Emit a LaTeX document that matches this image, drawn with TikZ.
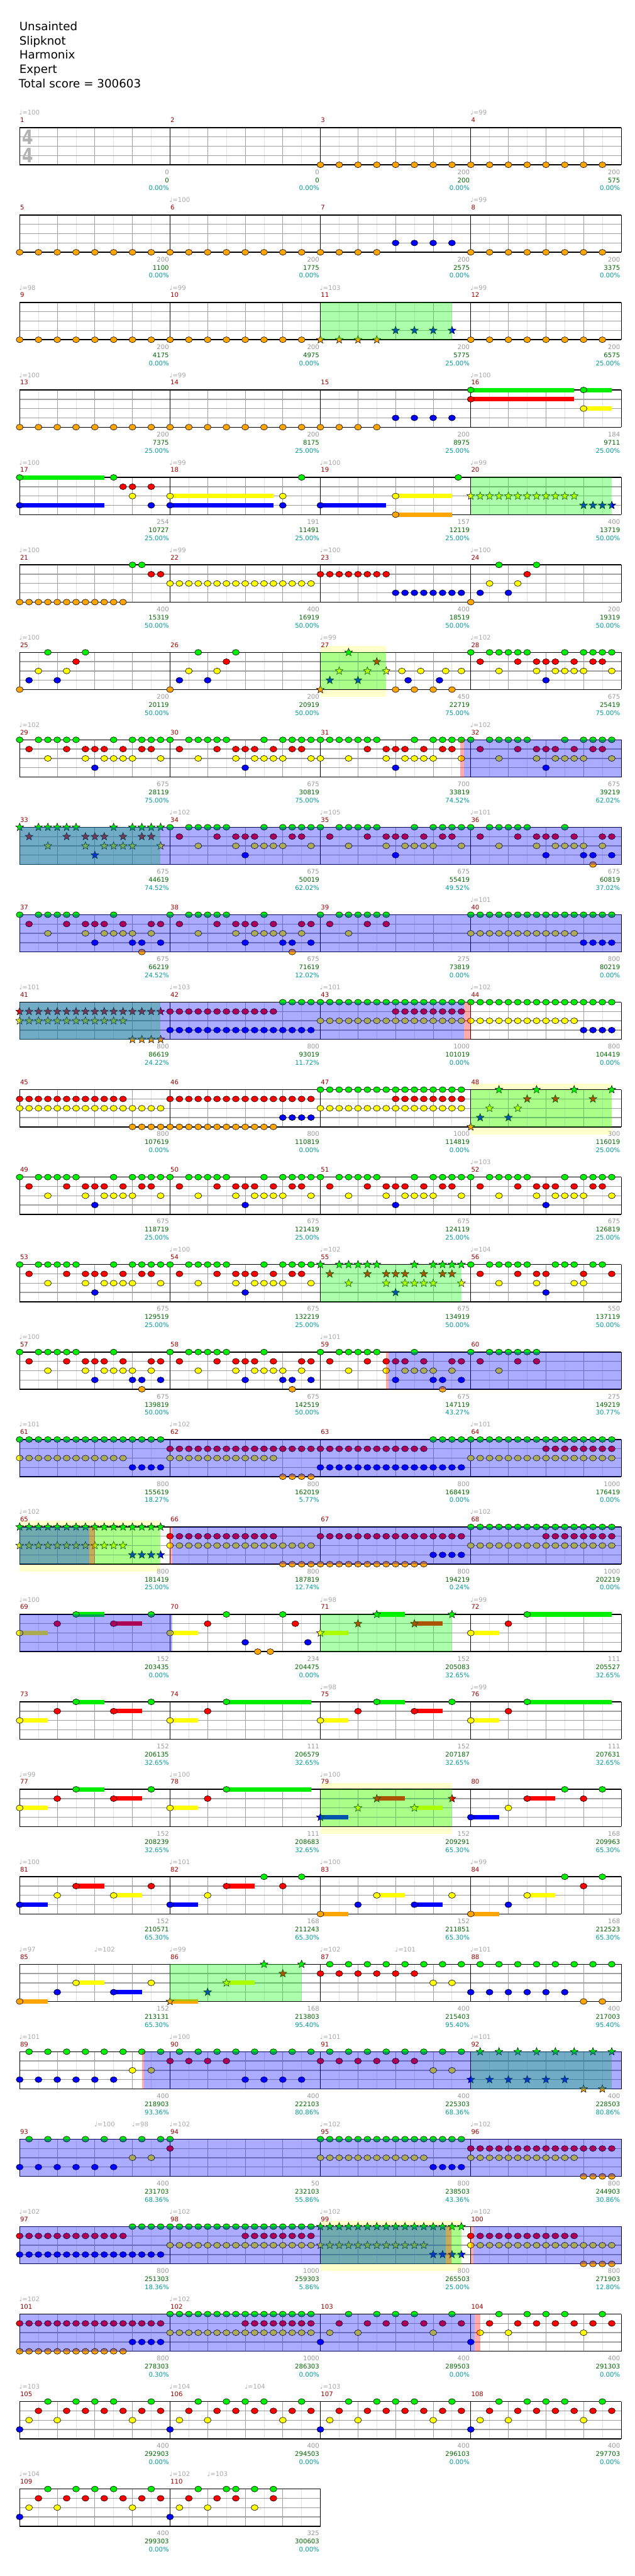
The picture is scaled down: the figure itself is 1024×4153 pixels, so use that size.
\documentclass[tikz,border=0pt]{standalone}
\usepackage{fontspec}
\setmainfont{DejaVu Sans}
\usetikzlibrary{shapes.geometric}
\definecolor{lnG}{HTML}{00EE00}
\definecolor{lnR}{HTML}{FF0000}
\definecolor{lnY}{HTML}{FFFF00}
\definecolor{lnB}{HTML}{0000FF}
\definecolor{lnO}{HTML}{FFA500}
\definecolor{GridLight}{HTML}{E2E2E2}
\definecolor{GridMid}{HTML}{A0A0A0}
\definecolor{SoloBg}{HTML}{FFFFCC}
\definecolor{SpGreen}{HTML}{00FF00}
\definecolor{OdBlue}{HTML}{0000FF}
\definecolor{MkRed}{HTML}{FF0000}
\definecolor{MeasRed}{HTML}{990000}
\definecolor{TempoGray}{HTML}{A8A8A8}
\definecolor{ScoreGray}{HTML}{999999}
\definecolor{CumGreen}{HTML}{006600}
\definecolor{PctCyan}{HTML}{009999}
\newcommand{\smallfont}{\fontsize{7.7}{9}\selectfont}
\def\laneG{0}\def\laneR{15}\def\laneY{30}\def\laneB{45}\def\laneO{60}
% origin of measure #1 -> \mx, \my (top line)
\newcommand{\meas}[1]{%
  \pgfmathtruncatemacro\mrow{(#1-1)/4}%
  \pgfmathtruncatemacro\mcol{#1-1-4*\mrow}%
  \pgfmathsetmacro\mx{31.7+242.5*\mcol}%
  \pgfmathsetmacro\my{205.7+141*\mrow}}
% notes: lane letter, list of 16th positions
\newcommand{\gem}[2]{\foreach \p in {#2}{\filldraw[fill=ln#1,gemline] ({\mx+15.15625*\p},{\my+\csname lane#1\endcsname}) ellipse (5.6 and 4.7);}}
\newcommand{\sgem}[2]{\foreach \p in {#2}{\node[starnote,fill=ln#1] (st#1\p) at ({\mx+15.15625*\p},{\my+\csname lane#1\endcsname}) {};}}
\newcommand{\holdbar}[3]{\fill[ln#1] ({\mx+15.15625*#2},{\my+\csname lane#1\endcsname-3.6}) rectangle ({\mx+15.15625*#3},{\my+\csname lane#1\endcsname+3.6});}
\newcommand{\hold}[3]{\holdbar{#1}{#2}{#3}\gem{#1}{#2}}
\newcommand{\shold}[3]{\holdbar{#1}{#2}{#3}\sgem{#1}{#2}}
\newcommand{\ovl}[4]{\meas{#2}\fill[#1] ({\mx+15.15625*#3},\my) rectangle ({\mx+15.15625*#4},{\my+60});}
% repeating riffs
\newcommand{\patA}{\gem G{0,2,3,4,5,6,10,12,13,14,15}\gem R{1,5,7,8,9,11,13,14}\gem Y{3,7,9,10,11,12,15}\gem B{8}}
\newcommand{\patAs}{\sgem G{0,2,3,4,5,6,10,12,13,14,15}\sgem R{1,5,7,8,9,11,13,14}\sgem Y{3,7,9,10,11,12,15}\sgem B{8}}
\newcommand{\patC}{\gem G{0,2,3,4,5,6,10}\gem R{1,5,7,8,9,11,14,15}\gem Y{3,7,9,10,11,12,14}\gem B{8,12,13,15}\gem O{13}}
\newcommand{\patD}{\gem B{0}\gem Y{1,4,12}\gem R{2,5,7,9,11,13,15}\gem G{3,6,8,10,14}}
\tikzset{
  gemline/.style={draw=black,line width=0.45pt},
  starnote/.style={star,star points=5,star point ratio=2.3,minimum size=10pt,inner sep=0pt,draw=black,line width=0.4pt},
  eighthline/.style={draw=GridLight,line width=0.6pt},
  beatline/.style={draw=GridMid,line width=0.7pt},
  laneline/.style={draw=GridMid,line width=1pt},
  barline/.style={draw=black,line width=0.7pt},
  edgeline/.style={draw=black,line width=1.1pt},
  sp/.style={fill=SpGreen,fill opacity=0.33},
  od/.style={fill=OdBlue,fill opacity=0.33},
  mk/.style={fill=MkRed,fill opacity=0.33},
  titletxt/.style={anchor=base west,inner sep=0pt,font=\fontsize{13.9}{16}\selectfont},
  timesig/.style={inner sep=0pt,text=black!30,font=\fontsize{24}{24}\selectfont\bfseries,xscale=0.8},
  mnum/.style={anchor=west,inner sep=0pt,text=MeasRed,font=\smallfont},
  tempo/.style={anchor=west,inner sep=0pt,text=TempoGray,font=\smallfont},
  lblscore/.style={anchor=east,inner sep=0pt,text=ScoreGray,font=\smallfont},
  lblcum/.style={anchor=east,inner sep=0pt,text=CumGreen,font=\smallfont},
  lblpct/.style={anchor=east,inner sep=0pt,text=PctCyan,font=\smallfont}
}
\begin{document}
\begin{tikzpicture}[x=0.75pt,y=-0.75pt]
\useasboundingbox (0,0) rectangle (1024,4153);
\fill[white] (0,0) rectangle (1024,4153);
% header
\node[titletxt] (song) at (31,49) {Unsainted};
\node[titletxt] (band) at (31,72) {Slipknot};
\node[titletxt] (chart) at (31,95) {Harmonix};
\node[titletxt] (diff) at (31,118) {Expert};
\node[titletxt] (total) at (30,141) {Total score = 300603};
% solo backgrounds
\foreach \m/\a/\b in {27/0/7,48/0/15,65/0/15,79/0/14,99/0/15}{\meas{\m}\fill[SoloBg] ({\mx+15.15625*\a},{\my-10}) rectangle ({\mx+15.15625*\b},{\my+72});}
% staff grid
\foreach \m in {1,...,110}{\meas{\m}
  \foreach \k in {1,3,5,7}{\draw[eighthline] ({\mx+30.3125*\k},\my) -- ++(0,60);}
  \foreach \k in {1,2,3}{\draw[beatline] ({\mx+60.625*\k},\my) -- ++(0,60);}
  \foreach \k in {1,2,3}{\draw[laneline] (\mx,{\my+15*\k}) -- ++(242.5,0);}
  \draw[barline] (\mx,\my) -- ++(0,60);
  \draw[edgeline] (\mx,\my) -- ++(242.5,0) (\mx,{\my+60}) -- ++(242.5,0);
  \node[mnum] (mn\m) at ({\mx+0.5},{\my-12}) {\m};
}
\foreach \r in {0,...,26}{\draw[barline] (1001.7,{205.7+141*\r}) -- ++(0,60);}
\draw[barline] (516.7,{205.7+141*27}) -- ++(0,60);
\node[timesig] (ts1) at (44.5,221.5) {4};
\node[timesig] (ts2) at (44.5,250.5) {4};
% tempo marks
\foreach \m/\q/\t in {1/0/100,4/0/99,6/0/100,8/0/99,9/0/98,10/0/99,11/0/103,12/0/99,13/0/100,14/0/99,16/0/100,17/0/100,18/0/99,19/0/100,20/0/99,21/0/100,22/0/99,23/0/100,24/0/100,25/0/100,27/0/99,28/0/102,29/0/102,32/0/102,34/0/102,35/0/105,36/0/101,40/0/101,41/0/101,42/0/103,43/0/101,44/0/102,52/0/103,54/0/100,55/0/102,56/0/104,57/0/100,59/0/101,61/0/101,62/0/102,64/0/101,65/0/102,68/0/102,69/0/100,71/0/98,72/0/99,75/0/98,76/0/99,77/0/99,78/0/100,79/0/100,81/0/100,82/0/101,83/0/100,84/0/99,85/0/97,85/8/102,86/0/99,87/0/102,87/8/101,88/0/101,89/0/101,90/0/100,91/0/101,92/0/101,93/8/100,93/12/98,94/0/102,95/0/102,96/0/102,97/0/102,98/0/102,99/0/102,100/0/102,101/0/102,102/0/102,105/0/103,106/0/104,106/8/104,107/0/103,109/0/104,110/0/102,110/4/103}{\meas{\m}
  \node[tempo] (tp\m-\q) at ({\mx-1+15.15625*\q},{\my-24}) {♩=\t};}
% measure scores
\foreach \m/\s/\c/\p in {1/0/0/0.00,2/0/0/0.00,3/200/200/0.00,4/200/575/0.00,
  5/200/1100/0.00,6/200/1775/0.00,7/200/2575/0.00,8/200/3375/0.00,
  9/200/4175/0.00,10/200/4975/0.00,11/200/5775/25.00,12/200/6575/25.00,
  13/200/7375/25.00,14/200/8175/25.00,15/200/8975/25.00,16/184/9711/25.00,
  17/254/10727/25.00,18/191/11491/25.00,19/157/12119/25.00,20/400/13719/50.00,
  21/400/15319/50.00,22/400/16919/50.00,23/400/18519/50.00,24/200/19319/50.00,
  25/200/20119/50.00,26/200/20919/50.00,27/450/22719/75.00,28/675/25419/75.00,
  29/675/28119/75.00,30/675/30819/75.00,31/700/33819/74.52,32/675/39219/62.02,
  33/675/44619/74.52,34/675/50019/62.02,35/675/55419/49.52,36/675/60819/37.02,
  37/675/66219/24.52,38/675/71619/12.02,39/275/73819/0.00,40/800/80219/0.00,
  41/800/86619/24.22,42/800/93019/11.72,43/1000/101019/0.00,44/800/104419/0.00,
  45/800/107619/0.00,46/800/110819/0.00,47/1000/114819/0.00,48/300/116019/25.00,
  49/675/118719/25.00,50/675/121419/25.00,51/675/124119/25.00,52/675/126819/25.00,
  53/675/129519/25.00,54/675/132219/25.00,55/675/134919/50.00,56/550/137119/50.00,
  57/675/139819/50.00,58/675/142519/50.00,59/675/147119/43.27,60/275/149219/30.77,
  61/800/155619/18.27,62/800/162019/5.77,63/800/168419/0.00,64/1000/176419/0.00,
  65/800/181419/25.00,66/800/187819/12.74,67/800/194219/0.24,68/1000/202219/0.00,
  69/152/203435/0.00,70/234/204475/0.00,71/152/205083/32.65,72/111/205527/32.65,
  73/152/206135/32.65,74/111/206579/32.65,75/152/207187/32.65,76/111/207631/32.65,
  77/152/208239/32.65,78/111/208683/32.65,79/152/209291/65.30,80/168/209963/65.30,
  81/152/210571/65.30,82/168/211243/65.30,83/152/211851/65.30,84/168/212523/65.30,
  85/152/213131/65.30,86/168/213803/95.40,87/400/215403/95.40,88/400/217003/95.40,
  89/400/218903/93.36,90/400/222103/80.86,91/400/225303/68.36,92/400/228503/80.86,
  93/400/231703/68.36,94/50/232103/55.86,95/800/238503/43.36,96/800/244903/30.86,
  97/800/251303/18.36,98/1000/259303/5.86,99/800/265503/25.00,100/800/271903/12.80,
  101/800/278303/0.30,102/1000/286303/0.00,103/400/289503/0.00,104/400/291303/0.00,
  105/400/292903/0.00,106/400/294503/0.00,107/400/296103/0.00,108/400/297703/0.00,
  109/400/299303/0.00,110/325/300603/0.00}{\meas{\m}
  \node[lblscore] (sc\m) at ({\mx+241},{\my+71.5}) {\s};
  \node[lblcum] (cu\m) at ({\mx+241},{\my+84.7}) {\c};
  \node[lblpct] (pc\m) at ({\mx+241},{\my+97.7}) {\p\%};}
% notes, row by row
\meas{3}\gem O{0,2,...,14}
\meas{4}\gem O{0,2,...,14}
\meas{5}\gem O{0,2,...,14}
\meas{6}\gem O{0,2,...,14}
\meas{7}\gem O{0,2,4,6}\gem B{8,10,12,14}
\meas{8}\gem O{0,2,...,14}
\meas{9}\gem O{0,2,...,14}
\meas{10}\gem O{0,2,...,14}
\meas{11}\sgem O{0,2,4,6}\sgem B{8,10,12,14}
\meas{12}\gem O{0,2,...,14}
\meas{13}\gem O{0,2,...,14}
\meas{14}\gem O{0,2,...,14}
\meas{15}\gem O{0,2,4,6}\gem B{8,10,12,14}
\meas{16}\hold G{0}{11}\hold G{12}{15}\hold R{0}{11}\hold Y{12}{15}
\meas{17}\hold G{0}{9}\gem G{10}\gem R{11,12,14}\gem Y{12}\hold B{0}{9}\gem B{14}
\meas{18}\gem G{14}\hold Y{0}{11}\gem Y{12}\hold B{0}{11}\gem B{12}
\meas{19}\gem G{14.67}\hold B{0}{7}\hold Y{8}{14}\hold O{8}{14}
\meas{20}\sgem Y{0,...,11}\sgem B{12,...,15}
\meas{21}\gem O{0,...,11}\gem G{12,13}\gem R{14,15}
\meas{22}\gem Y{0,...,15}
\meas{23}\gem R{0,...,7}\gem B{8,...,15}
\meas{24}\gem O{0}\gem B{1,4}\gem Y{2,5}\gem G{3,7}\gem R{6}
\meas{25}\gem O{0}\gem B{1,4}\gem Y{2,5}\gem G{3,7}\gem R{6}
\meas{26}\gem O{0}\gem B{1,4}\gem Y{2,5}\gem G{3,7}\gem R{6}
\meas{27}\sgem O{0}\sgem B{1,4}\sgem Y{2,5,7}\sgem G{3}\sgem R{6}\gem O{8,10,12,14}\gem Y{8.67,10.67,13.33,15}\gem B{9.33,12.67}
\meas{28}\patA
\meas{29}\patA
\meas{30}\patA
\meas{31}\gem G{0,1,2,3,4,5,6,10,12,13,14,15}\gem R{5,7,8,9,11,13,14}\gem Y{0,3,7,9,10,11,12,15}\gem B{8}
\meas{32}\patA
\meas{33}\patAs
\meas{34}\patA
\meas{35}\patA
\meas{36}\patC
\meas{37}\patC
\meas{38}\patC
\meas{39}\gem G{0,2,3,4,5,6,7}\gem R{1,5,7}\gem Y{3}
\meas{40}\gem G{0,...,15}\gem Y{0,...,11}\gem B{12,...,15}
\meas{41}\sgem R{0,...,15}\sgem Y{0,...,11}\sgem O{12,...,15}
\meas{42}\gem R{0,...,11}\gem B{0,...,15}\gem G{12,...,15}
\meas{43}\gem G{0,...,15}\gem R{8,...,15}\gem Y{0,...,15}
\meas{44}\gem G{0,...,15}\gem Y{0,...,11}\gem B{12,...,15}
\meas{45}\gem R{0,...,11}\gem Y{0,...,15}\gem O{12,...,15}
\meas{46}\gem R{0,...,15}\gem B{12,...,15}\gem O{0,...,11}
\meas{47}\gem G{0,...,15}\gem R{8,...,15}\gem Y{0,...,15}
\meas{48}\sgem O{0}\sgem B{1,4}\sgem Y{2,5}\sgem G{3,7,11,15}\sgem R{6,9,13}
\meas{49}\patA
\meas{50}\patA
\meas{51}\patA
\meas{52}\patA
\meas{53}\patA
\meas{54}\patA
\meas{55}\patAs
\meas{56}\gem G{0,2,3,4,5,6,9,10,11,13,14}\gem R{1,5,7,8,12,15}\gem Y{3,7,11,12}\gem B{8}
\meas{57}\patC
\meas{58}\patC
\meas{59}\patC
\meas{60}\gem G{0,2,3,4,5,6,7}\gem R{1,5,7}\gem Y{3}
\meas{61}\gem G{0,...,15}\gem Y{0,...,11}\gem B{12,...,15}
\meas{62}\gem R{0,...,15}\gem Y{0,...,11}\gem O{12,...,15}
\meas{63}\gem R{0,...,11}\gem B{0,...,15}\gem G{12,...,15}
\meas{64}\gem G{0,...,15}\gem R{8,...,15}\gem Y{0,...,15}
\meas{65}\sgem G{0,...,15}\sgem Y{0,...,11}\sgem B{12,...,15}
\meas{66}\gem R{0,...,11}\gem Y{0,...,15}\gem O{12,...,15}
\meas{67}\gem R{0,...,15}\gem O{0,...,11}\gem B{12,...,15}
\meas{68}\gem G{0,...,15}\gem R{8,...,15}\gem Y{0,...,15}
\meas{69}\hold Y{0}{3}\gem R{4}\hold G{6}{9}\hold R{10}{13}\gem G{14}
\meas{70}\hold Y{0}{3}\gem R{4}\gem G{6}\gem B{8}\gem O{9.33,10.67}\gem G{12}\gem R{13.33}\gem B{14.67}
\meas{71}\shold Y{0}{3}\sgem R{4}\shold G{6}{9}\shold R{10}{13}\sgem G{14}
\meas{72}\hold Y{0}{3}\gem R{4}\hold G{6}{15}
\meas{73}\hold Y{0}{3}\gem R{4}\hold G{6}{9}\hold R{10}{13}\gem G{14}
\meas{74}\hold Y{0}{3}\gem R{4}\hold G{6}{15}
\meas{75}\hold Y{0}{3}\gem R{4}\hold G{6}{9}\hold R{10}{13}\gem G{14}
\meas{76}\hold Y{0}{3}\gem R{4}\hold G{6}{15}
\meas{77}\hold Y{0}{3}\gem R{4}\hold G{6}{9}\hold R{10}{13}\gem G{14}
\meas{78}\hold Y{0}{3}\gem R{4}\hold G{6}{15}
\meas{79}\shold B{0}{3}\sgem Y{4}\shold R{6}{9}\shold Y{10}{13}\sgem R{14}
\meas{80}\hold B{0}{3}\gem Y{4}\hold R{6}{9}\gem G{10}\gem R{12}\gem G{14}
\meas{81}\hold B{0}{3}\gem Y{4}\hold R{6}{9}\hold Y{10}{13}\gem R{14}
\meas{82}\hold B{0}{3}\gem Y{4}\hold R{6}{9}\gem G{10}\gem R{12}\gem G{14}
\meas{83}\hold O{0}{3}\gem B{4}\hold Y{6}{9}\hold B{10}{13}\gem Y{14}
\meas{84}\hold O{0}{3}\gem B{4}\hold Y{6}{9}\gem G{10}\gem R{12}\gem G{14}
\meas{85}\hold O{0}{3}\gem B{4}\hold Y{6}{9}\hold B{10}{13}\gem Y{14}
\meas{86}\shold O{0}{3}\sgem B{4}\shold Y{6}{9}\sgem G{10}\sgem R{12}\sgem G{14}
\meas{87}\gem R{0,2,...,10}\gem G{1,3,...,15}\gem Y{12,14}
\meas{88}\gem B{0,2,...,10}\gem G{1,3,...,15}\gem O{12,14}
\meas{89}\gem B{0,2,...,10}\gem G{1,3,...,15}\gem Y{12,14}
\meas{90}\gem R{0,2,4,6}\gem G{1,3,...,15}\gem B{8,10,12,14}
\meas{91}\gem R{0,2,...,10}\gem G{1,3,...,15}\gem Y{12,14}
\meas{92}\sgem B{0,2,...,10}\sgem G{1,3,...,15}\sgem O{12,14}
\meas{93}\gem B{0,2,...,10}\gem G{1,3,...,15}\gem Y{12,14}
\meas{94}\gem G{0}\gem R{0}
\meas{95}\gem G{0,...,15}\gem Y{0,...,11}\gem B{12,...,15}
\meas{96}\gem R{0,...,15}\gem Y{0,...,11}\gem O{12,...,15}
\meas{97}\gem R{0,...,11}\gem B{0,...,15}\gem G{12,...,15}
\meas{98}\gem G{0,...,15}\gem R{8,...,15}\gem Y{0,...,15}
\meas{99}\sgem G{0,...,15}\sgem Y{0,...,11}\sgem B{12,...,15}
\meas{100}\gem R{0,...,11}\gem Y{0,...,15}\gem O{12,...,15}
\meas{101}\gem R{0,...,15}\gem O{0,...,11}\gem B{12,...,15}
\meas{102}\gem G{0,...,15}\gem R{8,...,15}\gem Y{0,...,15}
\meas{103}\patD
\meas{104}\patD
\meas{105}\patD
\meas{106}\patD
\meas{107}\patD
\meas{108}\patD
\meas{109}\patD
\meas{110}\gem B{0}\gem Y{1,4,9}\gem R{2,5,7,11}\gem G{3,6,7,9,11}
% star power phrases
\foreach \m/\a/\b in {11/0/14,20/0/15,27/0/7,33/0/15,41/0/15,48/0/15,55/0/15,65/0/15,71/0/14,79/0/14,86/0/14,92/0/15,99/0/15}{\ovl{sp}{\m}{\a}{\b}}
% overdrive
\foreach \m/\a/\b in {31/15.3/16,43/0/15.3,59/7.26/16,65/0/7.39,66/0.22/16,70/0/0.22,89/13.26/16,99/0/13.35,100/0.3/16,104/0/0.43}{\ovl{od}{\m}{\a}{\b}}
\foreach \m in {32,...,42}{\ovl{od}{\m}{0}{16}}
\foreach \m in {60,...,64}{\ovl{od}{\m}{0}{16}}
\foreach \m in {67,68,69}{\ovl{od}{\m}{0}{16}}
\foreach \m in {90,...,98}{\ovl{od}{\m}{0}{16}}
\foreach \m in {101,102,103}{\ovl{od}{\m}{0}{16}}
% activation marks
\foreach \m/\a/\b in {31/14.9/15.3,43/15.3/16,59/7/7.26,65/7.39/8,66/0/0.22,89/13/13.26,99/13.35/13.96,100/0/0.3,104/0.43/1}{\ovl{mk}{\m}{\a}{\b}}
\end{tikzpicture}
\end{document}
